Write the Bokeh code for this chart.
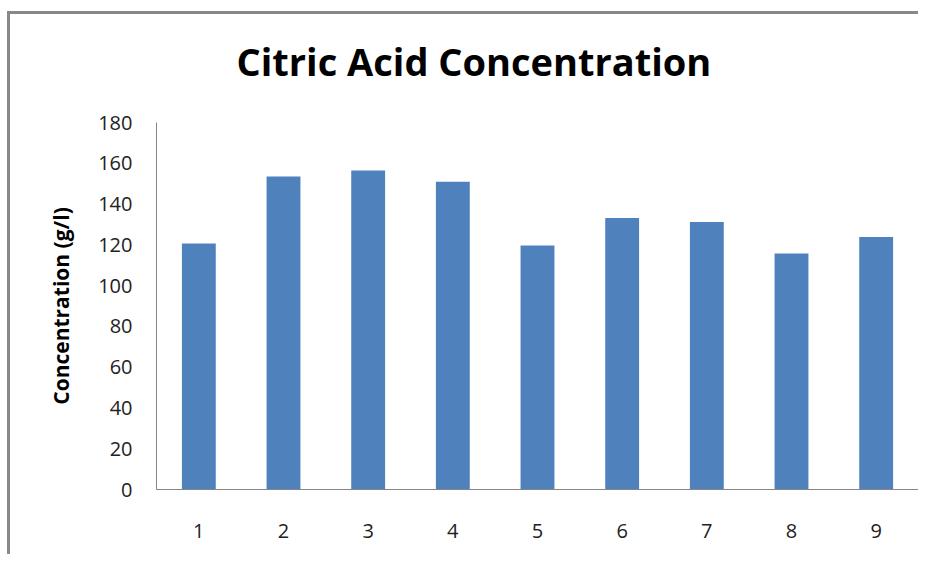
from bokeh.plotting import figure
from bokeh.models import Title, Range1d, FactorRange
from bokeh.embed import file_html
from bokeh.resources import INLINE

# data
samples = ["1", "2", "3", "4", "5", "6", "7", "8", "9"]
concentration = [120.6, 153.5, 156.5, 151.0, 119.7, 133.2, 131.2, 115.8, 123.8]
y_ticks = [0, 20, 40, 60, 80, 100, 120, 140, 160, 180]

p = figure(
    width=911, height=543,
    x_range=FactorRange(*samples, range_padding=0),
    y_range=Range1d(0, 180),
    output_backend="svg", toolbar_location=None, title=None,
    min_border_left=146, min_border_right=3, min_border_top=108, min_border_bottom=68,
)
p.margin = (11, 0, 0, 7)
p.styles = {"border-left": "3px solid #888888", "border-top": "3px solid #888888"}

p.vbar(x=samples, top=concentration, width=0.4, color="#4F81BD", line_color=None)

# title with spacer
p.add_layout(Title(text=" ", text_font_size="14px", text_font="Open Sans"), "above")
p.add_layout(Title(text="Citric Acid Concentration", align="left", offset=80,
                   text_font="Open Sans", text_font_size="38px", text_font_style="bold",
                   text_color="#000000"), "above")

p.outline_line_color = None
p.grid.visible = False
p.background_fill_color = "white"
p.border_fill_color = "white"

for ax in (p.xaxis, p.yaxis):
    ax.axis_line_color = "#868686"
    ax.axis_line_width = 1
    ax.major_tick_line_color = None
    ax.minor_tick_line_color = None
    ax.major_tick_out = 0
    ax.major_tick_in = 0
    ax.minor_tick_out = 0
    ax.minor_tick_in = 0
    ax.major_label_text_font = "Open Sans"
    ax.major_label_text_font_size = "20px"
    ax.major_label_text_color = "#222222"

p.yaxis.ticker = y_ticks
p.yaxis.major_label_standoff = 24
p.xaxis.major_label_standoff = 34
p.yaxis.axis_label = "Concentration (g/l)"
p.yaxis.axis_label_text_font = "Open Sans"
p.yaxis.axis_label_text_font_size = "21px"
p.yaxis.axis_label_text_font_style = "bold"
p.yaxis.axis_label_text_color = "#000000"
p.yaxis.axis_label_standoff = 20

open("out.html", "w").write(file_html(p, INLINE))
